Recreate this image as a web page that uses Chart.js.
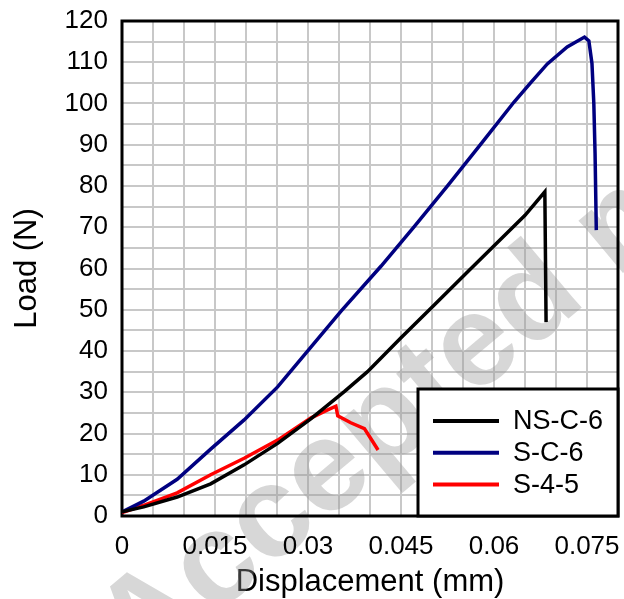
<!DOCTYPE html>
<html>
<head>
<meta charset="utf-8">
<script src="https://cdn.jsdelivr.net/npm/chart.js@4.4.1/dist/chart.umd.min.js"></script>
<style>
  html, body { margin: 0; padding: 0; background: #fff; }
  #wrap { width: 624px; height: 599px; position: relative; }
</style>
</head>
<body>
<div id="wrap"><canvas id="grafico"></canvas></div>
<script>
// Curvas carga-desplazamiento
const nsX = [0, 0.0035, 0.0089, 0.0143, 0.0197, 0.0251, 0.0305, 0.0359, 0.0396, 0.0450, 0.0504, 0.0558, 0.0612, 0.0650, 0.0682, 0.0684];
const nsY = [1.0, 2.2, 4.6, 7.8, 12.4, 17.6, 23.6, 30.2, 35.0, 43.2, 51.2, 59.3, 67.3, 72.9, 78.6, 47.0];

const scX = [0, 0.0035, 0.0089, 0.0143, 0.0197, 0.0251, 0.0305, 0.0353, 0.0418, 0.0472, 0.0526, 0.0580, 0.0632, 0.0660, 0.0686, 0.0718, 0.0746, 0.0753, 0.0758, 0.0761, 0.0763, 0.0765];
const scY = [1.0, 3.6, 8.9, 16.2, 23.3, 31.3, 41.0, 49.6, 60.6, 70.3, 80.2, 90.4, 100.3, 105.2, 109.6, 113.7, 116.1, 115.2, 109.7, 100.0, 87.9, 69.3];

const s45X = [0, 0.0035, 0.0089, 0.0143, 0.0197, 0.0251, 0.0305, 0.0330, 0.0345, 0.0348, 0.0369, 0.0391, 0.0402, 0.0413];
const s45Y = [0.8, 2.6, 5.6, 10.0, 14.0, 18.4, 23.8, 25.6, 26.6, 24.3, 22.6, 21.2, 18.6, 16.0];

const series = [
  { label: 'NS-C-6', xs: nsX, ys: nsY, color: '#000000' },
  { label: 'S-C-6', xs: scX, ys: scY, color: '#000080' },
  { label: 'S-4-5', xs: s45X, ys: s45Y, color: '#ff0000' }
];

const xMin = 0, xMax = 0.08, xStep = 0.005;
const yMin = 0, yMax = 120, yStep = 5;
const marcaAgua = 'Accepted manuscript';

const FUENTE = '"Liberation Sans", Arial, sans-serif';

function puntos(xs, ys) {
  return xs.map((x, i) => ({ x: x, y: ys[i] }));
}

// Marca de agua detrás de las curvas
const pluginMarca = {
  id: 'marca',
  beforeDatasetsDraw(chart) {
    const ctx = chart.ctx;
    ctx.save();
    ctx.translate(140, 678);
    ctx.rotate(-40 * Math.PI / 180);
    ctx.font = 'bold 130px ' + FUENTE;
    ctx.fillStyle = 'rgba(150,150,150,0.38)';
    ctx.textBaseline = 'alphabetic';
    ctx.fillText(marcaAgua, 0, 0);
    ctx.restore();

    // marco del área de trazado
    const a = chart.chartArea;
    ctx.save();
    ctx.strokeStyle = '#000';
    ctx.lineWidth = 3;
    ctx.strokeRect(a.left, a.top, a.right - a.left, a.bottom - a.top);
    ctx.restore();
  }
};

// Leyenda en recuadro, esquina inferior derecha
const pluginLeyenda = {
  id: 'leyendaCaja',
  afterDatasetsDraw(chart) {
    const ctx = chart.ctx;
    const a = chart.chartArea;
    const x0 = 418, y0 = 389;
    ctx.save();
    ctx.fillStyle = '#fff';
    ctx.fillRect(x0, y0, a.right - x0, a.bottom - y0);
    ctx.strokeStyle = '#000';
    ctx.lineWidth = 3;
    ctx.strokeRect(x0, y0, a.right - x0, a.bottom - y0);
    ctx.font = '27px ' + FUENTE;
    ctx.textBaseline = 'middle';
    chart.data.datasets.forEach((ds, i) => {
      const y = 421 + i * 31.7;
      ctx.strokeStyle = ds.borderColor;
      ctx.lineWidth = 4;
      ctx.beginPath();
      ctx.moveTo(433, y);
      ctx.lineTo(499, y);
      ctx.stroke();
      ctx.fillStyle = '#000';
      ctx.fillText(ds.label, 513, y + 1);
    });
    ctx.restore();
  }
};

new Chart(document.getElementById('grafico'), {
  type: 'scatter',
  data: {
    datasets: series.map(s => ({
      label: s.label,
      data: puntos(s.xs, s.ys),
      showLine: true,
      borderColor: s.color,
      backgroundColor: s.color,
      borderWidth: 3.5,
      pointRadius: 0,
      tension: 0
    }))
  },
  options: {
    responsive: true,
    maintainAspectRatio: false,
    animation: false,
    layout: { padding: { top: 21, right: 6, left: 0, bottom: 0 } },
    plugins: {
      legend: { display: false },
      tooltip: { enabled: false }
    },
    scales: {
      x: {
        type: 'linear',
        min: xMin,
        max: xMax,
        afterFit: s => { s.height = 83; s.paddingLeft = 0; s.paddingRight = 0; },
        grid: { color: '#c8c8c8', lineWidth: 2, drawTicks: false },
        border: { display: false },
        ticks: {
          z: 1,
          stepSize: xStep,
          autoSkip: false,
          maxRotation: 0,
          padding: 15,
          color: '#000',
          font: { family: FUENTE, size: 26 },
          callback: (v, i) => (i % 3 === 0 && v < 0.077) ? String(Number(v.toFixed(3))) : ''
        },
        title: {
          display: true,
          text: 'Displacement (mm)',
          color: '#000',
          font: { family: FUENTE, size: 31 },
          padding: { top: 0, bottom: -2 }
        }
      },
      y: {
        type: 'linear',
        min: yMin,
        max: yMax,
        afterFit: s => { s.width = 122; s.paddingTop = 0; s.paddingBottom = 0; },
        grid: { color: '#c8c8c8', lineWidth: 2, drawTicks: false },
        border: { display: false },
        ticks: {
          z: 1,
          stepSize: yStep,
          autoSkip: false,
          padding: 14,
          color: '#000',
          font: { family: FUENTE, size: 26 },
          callback: v => (v % 10 === 0) ? String(v) : ''
        },
        title: {
          display: true,
          text: 'Load (N)',
          color: '#000',
          font: { family: FUENTE, size: 31 },
          padding: { top: 9, bottom: 0 }
        }
      }
    }
  },
  plugins: [pluginMarca, pluginLeyenda]
});
</script>
</body>
</html>
